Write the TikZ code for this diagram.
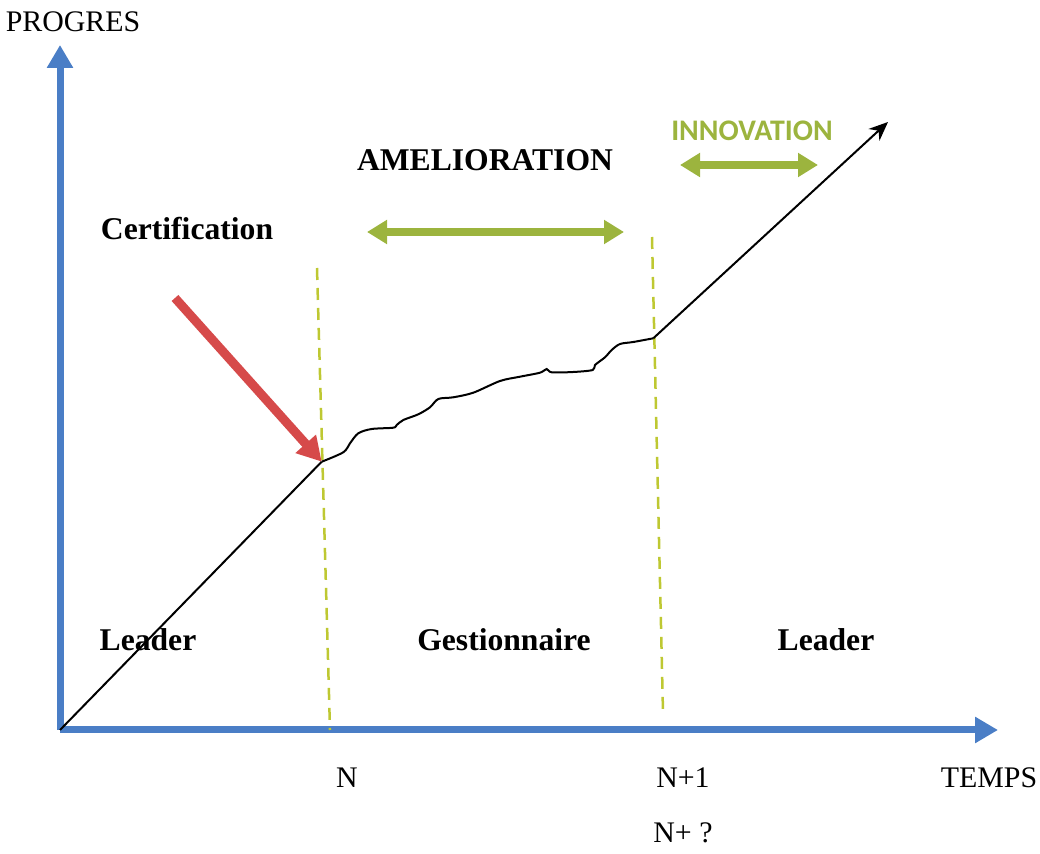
\documentclass[tikz,border=0pt]{standalone}
\usepackage{fontspec}
\setmainfont{Liberation Serif}
\newfontfamily\innofont{Carlito}
\usetikzlibrary{arrows.meta}
\definecolor{axisblue}{RGB}{74,126,198}
\definecolor{certred}{RGB}{214,74,74}
\definecolor{phasegreen}{RGB}{156,180,62}
\definecolor{limitgreen}{RGB}{190,200,50}
\tikzset{
  axisline/.style={line width=0.14cm, draw=axisblue, -{Triangle[length=0.46cm,width=0.50cm]}},
  phasearrow/.style={line width=0.16cm, draw=phasegreen, {Triangle[length=0.40cm,width=0.46cm]}-{Triangle[length=0.40cm,width=0.46cm]}},
  limitline/.style={line width=0.05cm, draw=limitgreen, dash pattern=on 0.24cm off 0.16cm},
  bigtext/.style={font=\fontsize{18}{21}\selectfont\bfseries},
  axistext/.style={font=\fontsize{17}{20}\selectfont}
}
\begin{document}
\begin{tikzpicture}
                \useasboundingbox (0,0) rectangle (20.800000,17.080000);
                
                % Axes
                \coordinate (O) at (1.200000,2.480000);%
                \coordinate (Ytip) at (1.200000,16.180000);%
                \coordinate (Xtip) at (19.960000,2.480000);%
                \draw [axisline] (O) -- (Ytip);%
                \draw [axisline] (O) -- (Xtip);%
                
                % Dashed limits N and N+1
                \coordinate (Ntop) at (6.340000,11.720000);%
                \coordinate (Nbot) at (6.600000,2.480000);%
                \coordinate (Mtop) at (13.040000,12.340000);%
                \coordinate (Mbot) at (13.260000,2.840000);%
                \draw [limitline] (Ntop) -- (Nbot);%
                \draw [limitline] (Mtop) -- (Mbot);%
                
                % Progress curve
                \coordinate (Cert) at (6.434000,7.846000);%
                \coordinate (Inno) at (13.066000,10.314000);%
                \coordinate (Ptip) at (17.760000,14.640000);%
                \draw [line width=0.040cm] (O) -- (Cert);%
                \draw [line width=0.040cm] plot [smooth, tension=0.5] coordinates {
                  (6.434000,7.846000) (6.866000,8.034000) (7.000000,8.214000)
                  (7.166000,8.414000) (7.434000,8.500000) (7.866000,8.526000)
                  (7.934000,8.580000) (8.066000,8.680000) (8.366000,8.794000)
                  (8.600000,8.934000) (8.766000,9.100000) (9.066000,9.134000)
                  (9.466000,9.226000) (10.000000,9.460000) (10.400000,9.546000)
                  (10.800000,9.626000) (10.934000,9.700000) (11.034000,9.634000)
                  (11.466000,9.640000) (11.854000,9.680000) (11.900000,9.780000)
                  (12.100000,9.934000) (12.234000,10.080000) (12.400000,10.200000)
                  (12.666000,10.240000) (13.066000,10.314000)};%
                \draw [line width=0.040cm, -{Stealth[length=0.38cm,width=0.32cm]}] (Inno) -- (Ptip);%
                
                % Certification arrow
                \coordinate (Rtail) at (3.500000,11.120000);%
                \draw [line width=0.18cm, draw=certred, -{Triangle[length=0.48cm,width=0.52cm]}] (Rtail) -- (Cert);%
                
                % Phase arrows
                \coordinate (Aleft) at (7.340000,12.440000);%
                \coordinate (Aright) at (12.480000,12.440000);%
                \coordinate (Ileft) at (13.600000,13.780000);%
                \coordinate (Iright) at (16.360000,13.780000);%
                \draw [phasearrow] (Aleft) -- (Aright);%
                \draw [phasearrow] (Ileft) -- (Iright);%
                
                % Labels
                \node [axistext] (progres) at (1.460000,16.640000) {PROGRES};%
                \node [bigtext] (amelio) at (9.700000,13.880000) {AMELIORATION};%
                \node [font=\fontsize{17}{20}\selectfont\innofont\bfseries, text=phasegreen] (innov) at (15.040000,14.460000) {INNOVATION};%
                \node [bigtext] (certif) at (3.740000,12.500000) {Certification};%
                \node [bigtext] (leadA) at (2.960000,4.280000) {Leader};%
                \node [bigtext] (gestion) at (10.080000,4.280000) {Gestionnaire};%
                \node [bigtext] (leadB) at (16.520000,4.280000) {Leader};%
                \node [axistext] (yearN) at (6.940000,1.520000) {N};%
                \node [axistext] (yearM) at (13.660000,1.520000) {N+1};%
                \node [axistext] (temps) at (19.780000,1.520000) {TEMPS};%
                \node [axistext] (yearQ) at (13.660000,0.420000) {N+ ?};%
                \end{tikzpicture}
\end{document}
